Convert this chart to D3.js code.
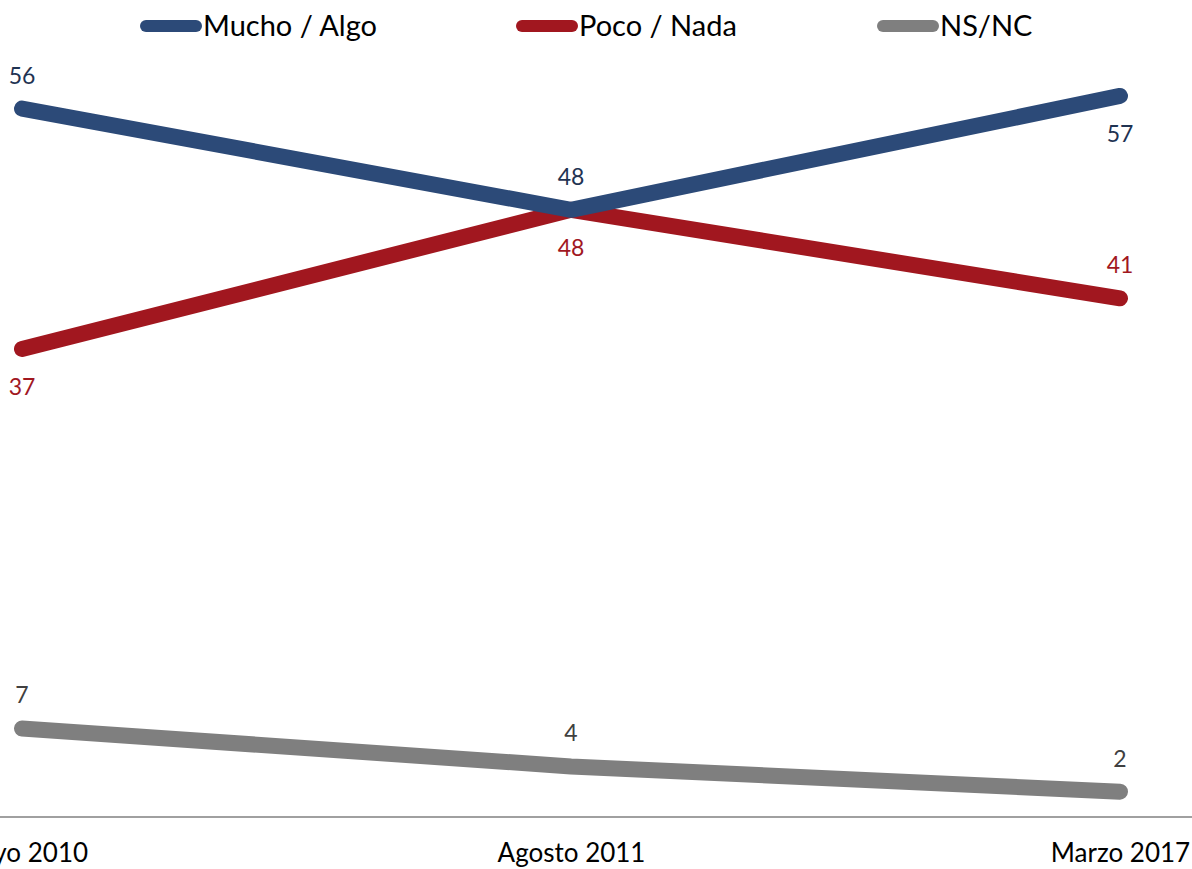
<!DOCTYPE html>
<html>
<head>
<meta charset="utf-8">
<script src="https://cdn.jsdelivr.net/npm/d3@7"></script>
<style>
  body { margin: 0; background: #fff; }
  svg { display: block; font-family: Lato, "Open Sans", sans-serif; }
</style>
</head>
<body>
<div id="chart"></div>
<script>
const width = 1192;
const height = 869;

const periods = ["Mayo 2010", "Agosto 2011", "Marzo 2017"];
const seriesNames = ["Mucho / Algo", "Poco / Nada", "NS/NC"];
const muchoAlgo = [56, 48, 57];
const pocoNada = [37, 48, 41];
const nsnc = [7, 4, 2];

// label above (-1) or below (+1) the point
const muchoPos = [-1, -1, 1];
const pocoPos = [1, 1, -1];
const nsncPos = [-1, -1, -1];

const series = [
  {name: seriesNames[0], values: muchoAlgo, pos: muchoPos, color: "#2c4a78", label: "#1f3352"},
  {name: seriesNames[1], values: pocoNada, pos: pocoPos, color: "#a1171f", label: "#a1171f"},
  {name: seriesNames[2], values: nsnc, pos: nsncPos, color: "#7f7f7f", label: "#404040"}
];

const svg = d3.select("#chart").append("svg")
    .attr("width", width)
    .attr("height", height);

const x = d3.scalePoint().domain(periods).range([22, 1120]);
const y = d3.scaleLinear().domain([0, 60]).range([817, 58]);

// x axis
const xAxis = svg.append("g")
    .attr("transform", `translate(0,${y(0)})`)
    .call(d3.axisBottom(x).tickSize(0).tickPadding(27));
xAxis.select(".domain").remove();
xAxis.append("line")
    .attr("x1", 0).attr("x2", width)
    .attr("stroke", "#a0a0a0").attr("stroke-width", 2);
xAxis.selectAll("text")
    .attr("font-size", 26)
    .attr("fill", "#000")
    .attr("font-family", "Lato, 'Open Sans', sans-serif");

const line = d3.line()
    .x((d, i) => x(periods[i]))
    .y(d => y(d));

// draw gray first, then red, then blue on top
const order = [2, 1, 0];
order.forEach(k => {
  const s = series[k];
  svg.append("path")
      .datum(s.values)
      .attr("d", line)
      .attr("fill", "none")
      .attr("stroke", s.color)
      .attr("stroke-width", 16)
      .attr("stroke-linecap", "round")
      .attr("stroke-linejoin", "round");
});

series.forEach(s => {
  svg.append("g").selectAll("text")
    .data(s.values)
    .join("text")
      .attr("x", (d, i) => x(periods[i]))
      .attr("y", (d, i) => y(d) + (s.pos[i] < 0 ? -25 : 46))
      .attr("text-anchor", "middle")
      .attr("font-size", 23)
      .attr("fill", s.label)
      .text(d => d);
});

// legend
const legendX = [140, 516, 877];
const legend = svg.append("g");
series.forEach((s, i) => {
  const g = legend.append("g").attr("transform", `translate(${legendX[i]},26)`);
  g.append("line")
      .attr("x1", 6).attr("x2", 56)
      .attr("stroke", s.color)
      .attr("stroke-width", 12)
      .attr("stroke-linecap", "round");
  g.append("text")
      .attr("x", 63)
      .attr("y", 10)
      .attr("font-size", 29)
      .attr("fill", "#000")
      .text(s.name);
});
</script>
</body>
</html>
